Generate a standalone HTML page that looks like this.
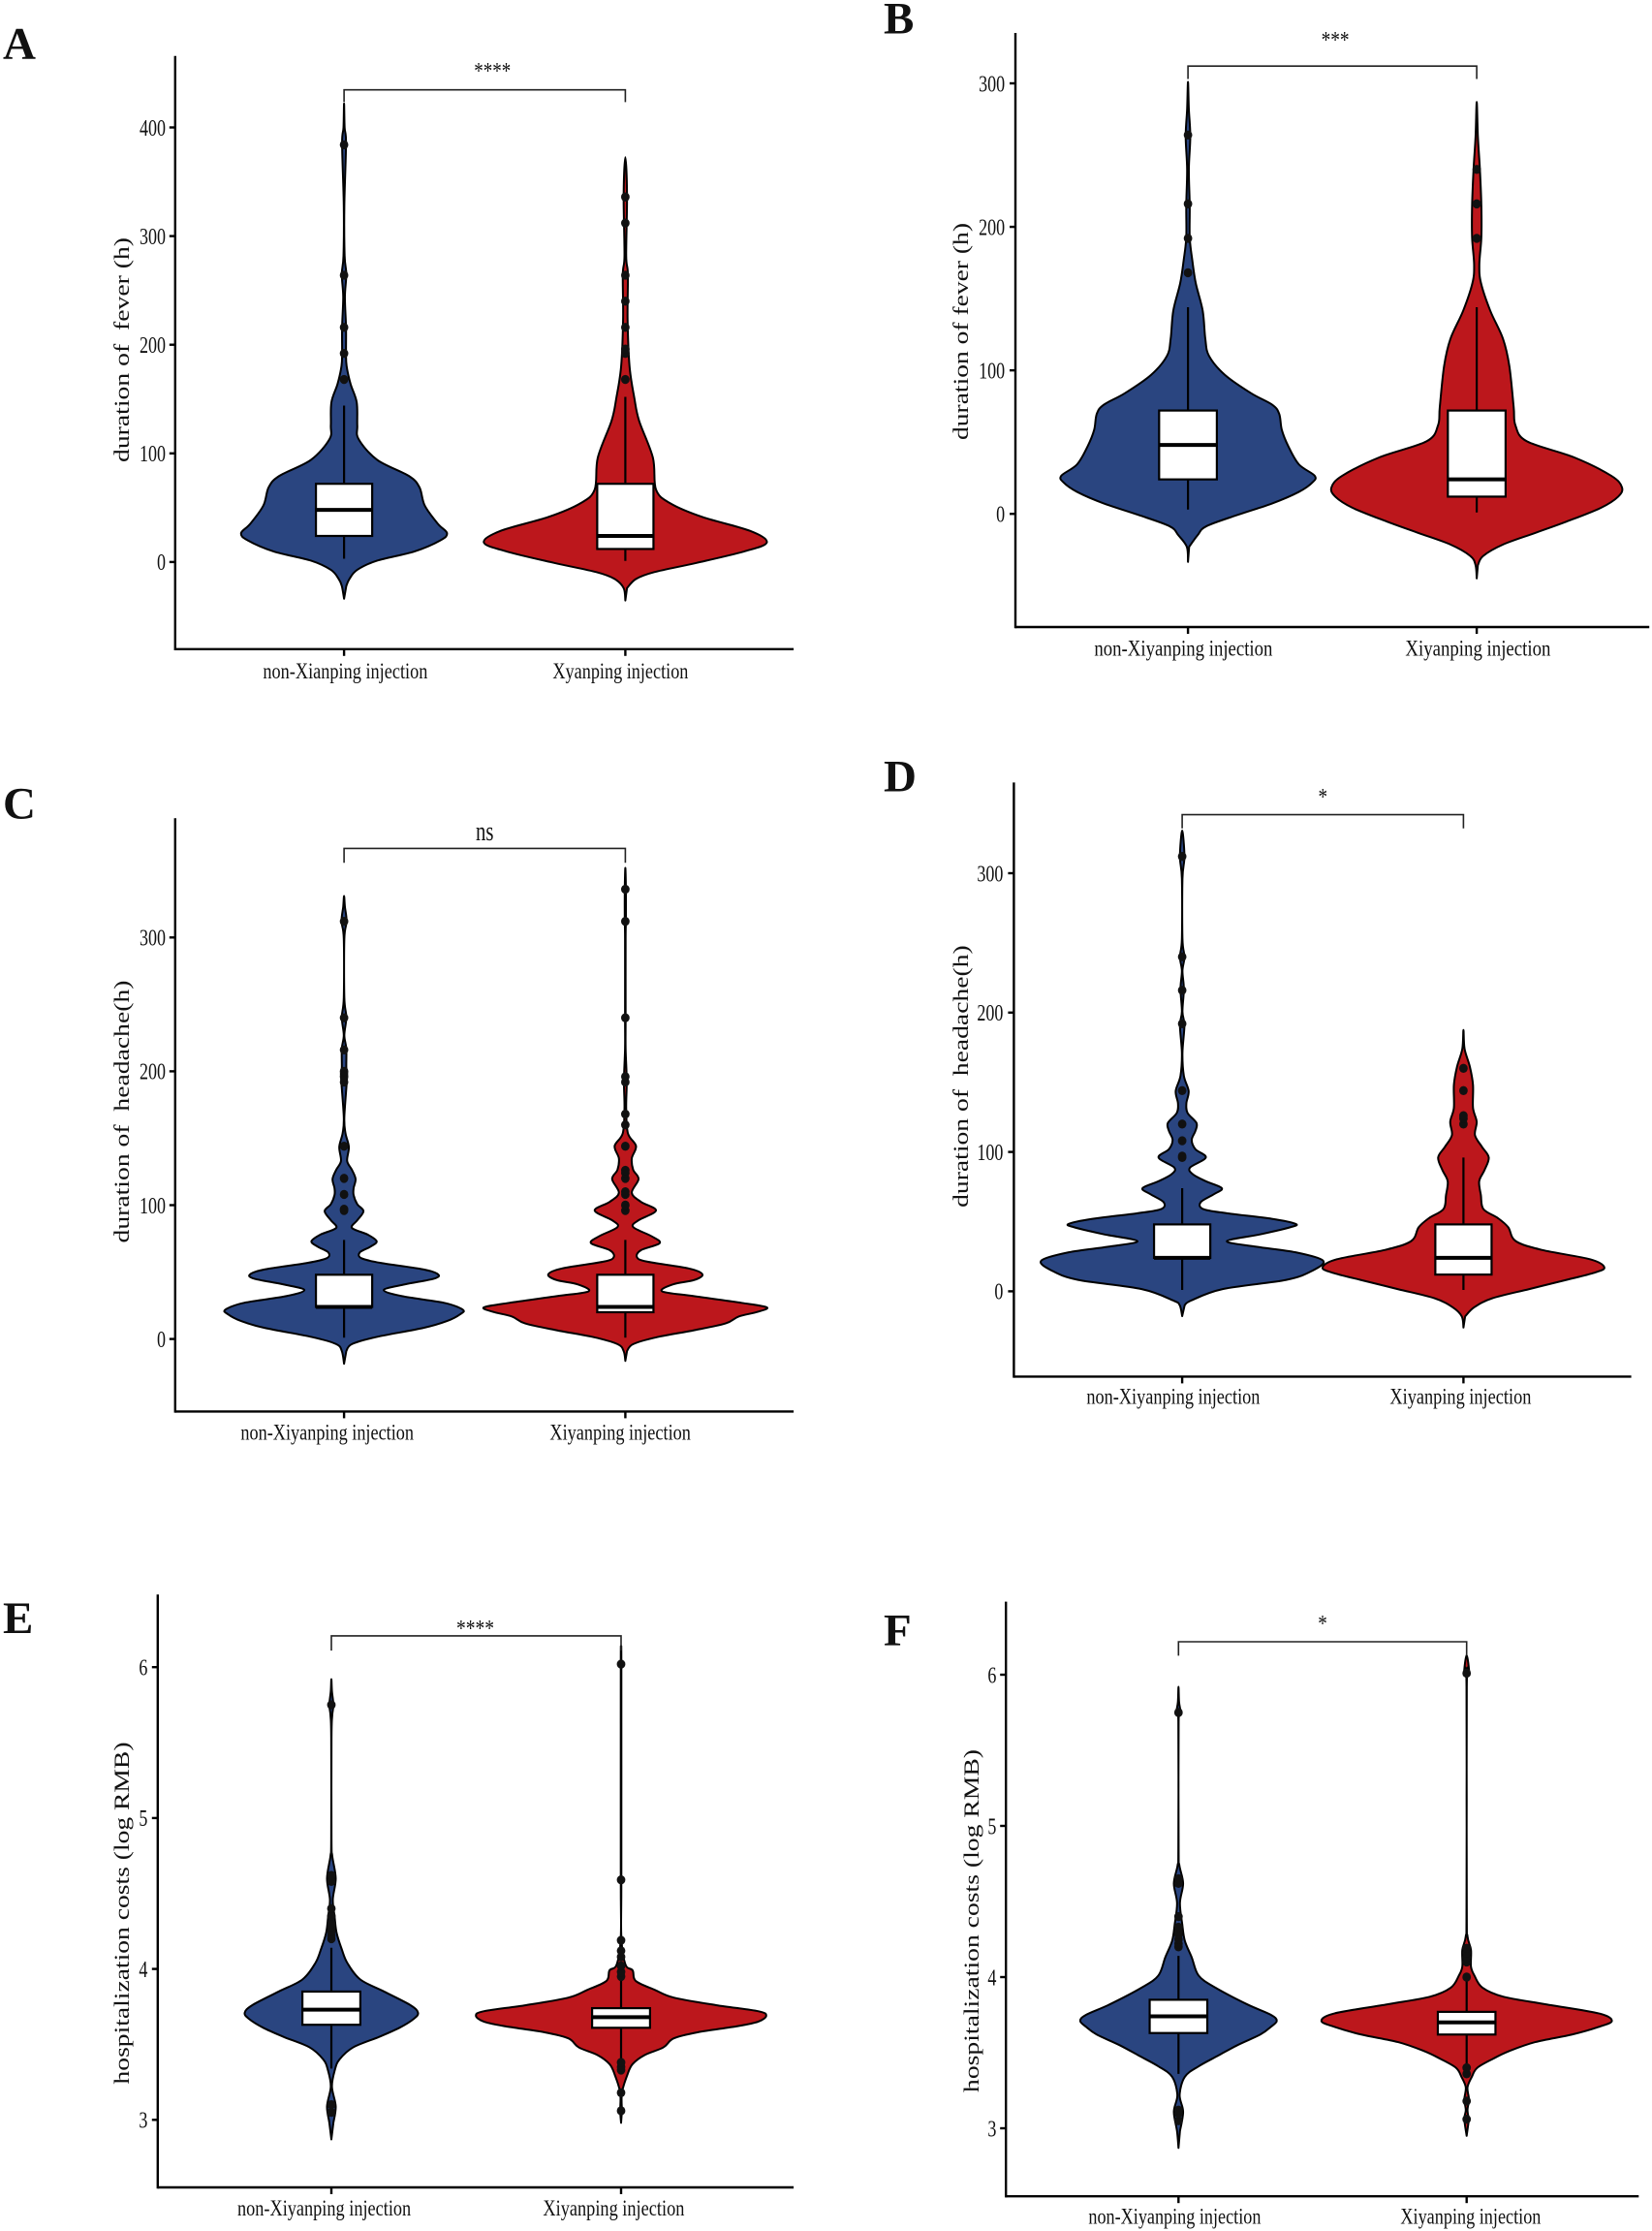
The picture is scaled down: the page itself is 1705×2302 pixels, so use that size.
<!DOCTYPE html>
<html lang="en">
<head>
<meta charset="utf-8">
<title>Violin plots: Xiyanping injection outcomes</title>
<style>
html,body{margin:0;padding:0;background:#fff;}
svg{display:block;}
text{font-family:"Liberation Serif",serif;fill:#111;white-space:pre;}
</style>
</head>
<body>
<svg id="figure" xmlns="http://www.w3.org/2000/svg" width="1705" height="2302" viewBox="0 0 1705 2302"></svg>
<script>
// Panel A: duration of fever
const aTicks = [0, 100, 200, 300, 400];
const aLeftValues = [-33.8,-22,-15.6,-7.2,1.3,9.7,20,26.6,35,51.9,68.8,79.3,94,113,125.7,147,164,180.6,193,216,244,265,282,328,385,400,422];
const aLeftDensity = [0,.8,1.9,4.7,11.8,25,34.3,36.6,33.4,28.7,26.8,23,11.8,5.2,4.7,4.5,2.3,.9,.7,.7,.3,.8,.2,.1,.7,.2,0];
const aLeftBox = [3, 24, 48, 72, 144];
const aLeftOutliers = [168,192,216,264,384];
const aRightValues = [-35.4,-24,-15.6,-9.3,-.8,9.7,18,28.7,41.4,54,66.7,96,130,151,180,223,265,282,337,372.6];
const aRightDensity = [0,.6,3.8,10.3,25.3,42.2,50.3,44.3,27.4,16,10.9,9.8,4.9,3.2,1.5,.8,.9,.3,.6,0];
const aRightBox = [1, 12, 24, 72, 152];
const aRightOutliers = [168,192,196,216,240,264,312,336];

// Panel B: duration of fever
const bTicks = [0, 100, 200, 300];
const bLeftValues = [-33.5,-23,-15,-8.6,-.6,7.3,15.3,21.7,26.5,34.5,47.3,58.5,69.6,76,84,96.8,110,122,141.5,160.7,176.7,192.6,215,240,263,282,301];
const bLeftDensity = [0,.4,3.3,6.4,17.4,29.2,38.4,43,43.9,38.4,34.7,32.5,31.6,29.2,21.9,12.8,7.3,6,5.1,2.7,1.5,.6,.6,.3,.8,.3,0];
const bLeftBox = [3, 24, 48, 72, 144];
const bLeftOutliers = [168,192,216,264];
const bRightValues = [-45,-35.8,-29.4,-21.4,-13.4,-5.4,4.2,12,18.5,26.5,39.3,50.5,61.7,74.4,103,122,141.5,160.7,173.5,192.6,215,240,263,287];
const bRightDensity = [0,.4,2.2,9.1,20.1,31.1,43,49,50.3,46.6,33.8,17.4,13.4,12.8,11.3,9.1,4.7,1.5,.9,1.6,1.6,1.1,.4,0];
const bRightBox = [1, 12, 24, 72, 144];
const bRightOutliers = [192,216,240];

// Panel C: duration of headache
const cTicks = [0, 100, 200, 300];
const cLeftValues = [-18.5,-9,-3.8,1.4,8.2,13.4,18.5,21.9,27,32,36.6,40.8,45,48.3,52,56.8,60.3,64.7,69,73,78,83,88.7,95.5,100.7,107.5,112.7,119.5,126.4,133,143.5,153.8,165.8,196.6,203,217,227,240.4,255,299,312,323,331];
const cLeftDensity = [0,.8,2.8,11.3,28.1,36.6,41.3,42.2,35.6,20.6,14.1,21.6,31.9,33.4,28.1,13.1,6.2,5.6,9.4,11.6,8.4,2.8,4.7,6.9,4.7,3.4,3.4,4.1,2.8,1.1,1.7,.5,.1,1.1,.8,.8,.1,.8,.1,.1,.9,.3,0];
const cLeftBox = [1, 24, 24, 48, 74];
const cLeftOutliers = [96,97,108,120,144,192,196,200,216,240,312];
const cRightValues = [-16.4,-9,-3.8,1.4,6.5,11.6,16.8,20.2,23.6,27,32,35.6,40.8,44,48.3,52.7,57.9,61.3,66.4,71.6,76.7,83.6,88.7,96,102.4,109.2,119.5,126.4,135,144.2,153.8,172.6,193,217,240,299,312,336,352];
const cRightDensity = [0,.6,2.8,11.3,24.4,35.6,40.3,46.9,50.3,41.3,24.4,13.1,16.9,24.4,27.4,22.5,7.5,4.1,5.6,12.2,9.4,2.8,4.7,10.9,5.6,2.3,4.7,2.8,2.3,3.8,.9,.3,.5,.1,.1,.1,.2,.2,0];
const cRightBox = [1, 20, 24, 48, 74];
const cRightOutliers = [96,100,108,110,120,124,126,144,160,168,192,196,240,312,336];

// Panel D: duration of headache
const dTicks = [0, 100, 200, 300];
const dLeftValues = [-17.8,-9.9,-6.6,1.6,8.2,14.8,22,28,32,36,41,46,48.4,52,56,59,64,69.7,74,79,84,88.8,96,102,108.6,115,120.7,128,135,143.7,154.6,171,190.8,200.7,217,230,240,253,296,312,330.6];
const dLeftDensity = [0,.9,3.2,14.4,37,46.3,50.1,40.3,26.3,15.9,28.1,38.5,40.3,31.9,15.9,7.5,6.6,11.3,14.1,8.4,3.8,2.8,8.4,4.7,3.4,4.7,5.1,1.9,1.5,2.3,.6,.1,.8,.1,.6,.1,.8,.1,.1,.8,0];
const dLeftBox = [1, 24, 24, 48, 74];
const dLeftOutliers = [96,97,108,120,144,192,216,240,312];
const dRightValues = [-26,-18,-11.5,-5,1.6,8.2,13,17,23,29.6,36,46,52.6,59,69,79,87,96,103.6,112,121.7,131.6,148,161,174,187.5];
const dRightDensity = [0,.6,3.8,10.3,23.4,36.6,46,50.1,45,28.1,18.6,15.9,12.2,7.1,6.2,5.6,7.5,9,6.6,4.1,4.7,3.4,3.4,2.3,.4,0];
const dRightBox = [1, 12, 24, 48, 96];
const dRightOutliers = [120,124,126,144,160];

// Panel E: hospitalization costs
const eTicks = [3, 4, 5, 6];
const eLeftValues = [2.87,2.98,3.09,3.22,3.33,3.4,3.48,3.55,3.61,3.67,3.71,3.76,3.85,3.93,4.04,4.13,4.24,4.35,4.46,4.6,4.75,4.86,5.53,5.68,5.75,5.84,5.92];
const eLeftDensity = [0,.7,1.5,.2,1.2,2.8,7.5,16.5,23.5,28.5,29.9,27.3,18.2,10,5.5,3.6,1.8,1.1,.5,1.5,.3,.05,.05,.3,.7,.2,0];
const eLeftBox = [3.34, 3.63, 3.73, 3.85, 4.14];
const eLeftOutliers = [3.05,3.1,4.2,4.22,4.25,4.28,4.3,4.35,4.4,4.58,4.62,5.75];
const eRightValues = [2.98,3.06,3.18,3.3,3.37,3.43,3.48,3.54,3.58,3.62,3.65,3.69,3.72,3.76,3.81,3.86,3.92,3.99,4.03,4.21,4.6,6,6.09];
const eRightDensity = [0,.3,.3,2.2,4,8.2,14.6,18.2,26.4,40,47.3,50.1,47.3,32.8,18.2,11.8,5.1,4,1.5,.1,.1,.1,0];
const eRightBox = [3.4, 3.61, 3.68, 3.74, 3.95];
const eRightOutliers = [3.06,3.18,3.33,3.35,3.38,3.95,3.98,4.02,4.08,4.12,4.19,4.59,6.02];

// Panel F: hospitalization costs
const fTicks = [3, 4, 5, 6];
const fLeftValues = [2.87,2.98,3.11,3.22,3.34,3.41,3.48,3.55,3.62,3.67,3.71,3.75,3.82,3.93,4.01,4.13,4.24,4.35,4.49,4.62,4.74,4.85,5.69,5.75,5.82,5.92];
const fLeftDensity = [0,.5,1.6,.4,2.2,7,13.7,20.5,28.4,32,34.1,32.1,23.8,12.8,7,4.6,2.2,1.3,.5,1.6,.3,.05,.05,.7,.2,0];
const fLeftBox = [3.36, 3.63, 3.74, 3.85, 4.14];
const fLeftOutliers = [3.05,3.1,3.12,4.2,4.22,4.25,4.28,4.3,4.33,4.4,4.62,4.65,5.75];
const fRightValues = [2.95,3.06,3.12,3.19,3.27,3.34,3.4,3.46,3.51,3.57,3.62,3.67,3.71,3.76,3.82,3.87,3.93,4.01,4.07,4.18,4.27,4.46,5.92,6,6.13];
const fRightDensity = [0,.8,.3,.8,.3,1.8,3.7,9.2,14.7,23.8,36.6,45.8,50.4,45.8,27.5,12.8,5.5,2.7,1.5,1.5,.3,.05,.05,.9,0];
const fRightBox = [3.4, 3.62, 3.7, 3.77, 3.99];
const fRightOutliers = [3.06,3.18,3.36,3.4,4,4.1,4.13,4.16,4.19,6.01];

const panels = [
  {id:'a', letter:'A', lx:3, ly:60.5,
   axis:{l:181.4,r:819.7,t:58.7,b:670.8}, cat:[355.7,646], y:{v0:0,p0:580.9,v1:400,p1:132.5},
   ticks:aTicks, tickRight:171.6, tickW:9,
   title:'duration of  fever (h)', titleX:126, titleY:362, titleLen:232,
   xLabels:['non-Xianping injection','Xyanping injection'], xSpans:[[272,442],[571,711]], xLabelY:701,
   bracket:[434.6,423.3], sig:'****', sigDx:8, sigW:38, sigBase:82,
   left:{v:aLeftValues,d:aLeftDensity,box:aLeftBox,out:aLeftOutliers},
   right:{v:aRightValues,d:aRightDensity,box:aRightBox,out:aRightOutliers}},
  {id:'b', letter:'B', lx:912, ly:34.5,
   axis:{l:1048.6,r:1702.8,t:35,b:648}, cat:[1226.7,1524.7], y:{v0:0,p0:531.2,v1:300,p1:87},
   ticks:bTicks, tickRight:1037.7, tickW:9,
   title:'duration of fever (h)', titleX:992, titleY:343, titleLen:224,
   xLabels:['non-Xiyanping injection','Xiyanping injection'], xSpans:[[1130,1314],[1451,1601]], xLabelY:677.5,
   bracket:[312,303], sig:'***', sigDx:3, sigW:29, sigBase:50,
   left:{v:bLeftValues,d:bLeftDensity,box:bLeftBox,out:bLeftOutliers},
   right:{v:bRightValues,d:bRightDensity,box:bRightBox,out:bRightOutliers}},
  {id:'c', letter:'C', lx:3, ly:844.5,
   axis:{l:181.4,r:819.7,t:845.3,b:1457.4}, cat:[355.7,646], y:{v0:0,p0:1382.6,v1:300,p1:968.3},
   ticks:cTicks, tickRight:171.6, tickW:9,
   title:'duration of  headache(h)', titleX:126, titleY:1148, titleLen:271,
   xLabels:['non-Xiyanping injection','Xiyanping injection'], xSpans:[[249,427.6],[568,713.5]], xLabelY:1486.5,
   bracket:[366.5,355.8], sig:'ns', sigDx:0, sigW:18.5, sigBase:868,
   left:{v:cLeftValues,d:cLeftDensity,box:cLeftBox,out:cLeftOutliers},
   right:{v:cRightValues,d:cRightDensity,box:cRightBox,out:cRightOutliers}},
  {id:'d', letter:'D', lx:912, ly:816.5,
   axis:{l:1047,r:1684.2,t:808.4,b:1421.4}, cat:[1220.7,1511], y:{v0:0,p0:1333.4,v1:300,p1:902},
   ticks:dTicks, tickRight:1036, tickW:9,
   title:'duration of  headache(h)', titleX:992, titleY:1111.6, titleLen:270.6,
   xLabels:['non-Xiyanping injection','Xiyanping injection'], xSpans:[[1122,1301],[1435,1581]], xLabelY:1449.5,
   bracket:[342,332.2], sig:'*', sigDx:0, sigW:9.5, sigBase:831,
   left:{v:dLeftValues,d:dLeftDensity,box:dLeftBox,out:dLeftOutliers},
   right:{v:dRightValues,d:dRightDensity,box:dRightBox,out:dRightOutliers}},
  {id:'e', letter:'E', lx:3, ly:1685,
   axis:{l:163.4,r:819.7,t:1646.2,b:2258}, cat:[342.6,641.6], y:{v0:3,p0:2188.3,v1:6,p1:1721.2},
   ticks:eTicks, tickRight:153, tickW:9,
   title:'hospitalization costs (log RMB)', titleX:126, titleY:1975, titleLen:353,
   xLabels:['non-Xiyanping injection','Xiyanping injection'], xSpans:[[245.6,424.8],[561,707]], xLabelY:2287,
   bracket:[6.207,6.11], sig:'****', sigDx:-1, sigW:39, sigBase:1689,
   left:{v:eLeftValues,d:eLeftDensity,box:eLeftBox,out:eLeftOutliers},
   right:{v:eRightValues,d:eRightDensity,box:eRightBox,out:eRightOutliers}},
  {id:'f', letter:'F', lx:912, ly:1697.5,
   axis:{l:1038.8,r:1691.9,t:1653.6,b:2267.2}, cat:[1216.9,1514.3], y:{v0:3,p0:2197,v1:6,p1:1729},
   ticks:fTicks, tickRight:1029, tickW:9,
   title:'hospitalization costs (log RMB)', titleX:1003, titleY:1983, titleLen:354,
   xLabels:['non-Xiyanping injection','Xiyanping injection'], xSpans:[[1124,1302],[1446,1591]], xLabelY:2295.5,
   bracket:[6.218,6.126], sig:'*', sigDx:0, sigW:9.5, sigBase:1684,
   left:{v:fLeftValues,d:fLeftDensity,box:fLeftBox,out:fLeftOutliers},
   right:{v:fRightValues,d:fRightDensity,box:fRightBox,out:fRightOutliers}}
];

const NS = 'http://www.w3.org/2000/svg';
const BLUE = '#2A4580';
const RED = '#BC171C';
const INK = '#000';
const root = document.getElementById('figure');

function makeEl(tag, parent, attrs) {
  const el = document.createElementNS(NS, tag);
  Object.keys(attrs).forEach(function (k) { el.setAttribute(k, attrs[k]); });
  parent.appendChild(el);
  return el;
}

function smoothPath(pts) {
  let d = 'M' + pts[0][0].toFixed(2) + ' ' + pts[0][1].toFixed(2);
  for (let i = 0; i < pts.length - 1; i++) {
    const p0 = pts[Math.max(i - 1, 0)], p1 = pts[i], p2 = pts[i + 1], p3 = pts[Math.min(i + 2, pts.length - 1)];
    const c1x = p1[0] + (p2[0] - p0[0]) / 6, c1y = p1[1] + (p2[1] - p0[1]) / 6;
    const c2x = p2[0] - (p3[0] - p1[0]) / 6, c2y = p2[1] - (p3[1] - p1[1]) / 6;
    d += 'C' + c1x.toFixed(2) + ' ' + c1y.toFixed(2) + ' ' + c2x.toFixed(2) + ' ' + c2y.toFixed(2) + ' ' + p2[0].toFixed(2) + ' ' + p2[1].toFixed(2);
  }
  return d + 'Z';
}

function drawViolin(parent, s, cx, spacing, yScale, color, side) {
  const group = makeEl('g', parent, {});
  
  

  const leftSide = s.v.map(function (v, i) { return [cx - s.d[i] / 100 * spacing, yScale(v)]; });
  const rightSide = s.v.map(function (v, i) { return [cx + s.d[i] / 100 * spacing, yScale(v)]; }).reverse().slice(1, -1);
  const shape = makeEl('path', group, {d: smoothPath(leftSide.concat(rightSide)), fill: color, stroke: INK, 'stroke-width': 2, 'stroke-linejoin': 'round'});
  
  

  const whiskerLow = s.box[0], q1 = s.box[1], median = s.box[2], q3 = s.box[3], whiskerHigh = s.box[4];
  const whisker = makeEl('line', group, {x1: cx, x2: cx, y1: yScale(whiskerLow), y2: yScale(whiskerHigh), stroke: INK, 'stroke-width': 2.2});
  
  

  const halfBox = spacing * 0.1;
  const box = makeEl('rect', group, {x: cx - halfBox, y: yScale(q3), width: halfBox * 2, height: yScale(q1) - yScale(q3), fill: '#fff', stroke: INK, 'stroke-width': 2.2});
  
  

  const med = makeEl('line', group, {x1: cx - halfBox, x2: cx + halfBox, y1: yScale(median), y2: yScale(median), stroke: INK, 'stroke-width': 4});
  
  

  s.out.forEach(function (v) {
    const dot = makeEl('ellipse', group, {cx: cx, cy: yScale(v), rx: 4.4, ry: 4.7, fill: '#111'});
    
    
  });
}

panels.forEach(function (p) {
  const g = makeEl('g', root, {transform: 'translate(-0.6 -1)'});
  
  

  const yScale = function (v) { return p.y.p0 + (v - p.y.v0) * (p.y.p1 - p.y.p0) / (p.y.v1 - p.y.v0); };
  const spacing = p.cat[1] - p.cat[0];

  const letter = makeEl('text', g, {x: p.lx + 0.6, y: p.ly + 1, 'font-size': 47, 'font-weight': 700});
  
  
  letter.textContent = p.letter;

  drawViolin(g, p.left, p.cat[0], spacing, yScale, BLUE, 'control');
  drawViolin(g, p.right, p.cat[1], spacing, yScale, RED, 'xiyanping');

  const yAxis = makeEl('line', g, {x1: p.axis.l, x2: p.axis.l, y1: p.axis.t, y2: p.axis.b + 1.2, stroke: INK, 'stroke-width': 2.4});
  
  

  const xAxis = makeEl('line', g, {x1: p.axis.l, x2: p.axis.r, y1: p.axis.b, y2: p.axis.b, stroke: INK, 'stroke-width': 2.4});
  
  

  p.ticks.forEach(function (t) {
    const py = yScale(t);
    const tick = makeEl('line', g, {x1: p.axis.l - 6, x2: p.axis.l, y1: py, y2: py, stroke: INK, 'stroke-width': 2.4});
    
    
    const str = String(t);
    const label = makeEl('text', g, {x: p.tickRight - p.tickW * str.length, y: py + 8.3, 'font-size': 24, textLength: p.tickW * str.length, lengthAdjust: 'spacingAndGlyphs'});
    
    
    label.textContent = str;
  });

  p.cat.forEach(function (cx, i) {
    const tick = makeEl('line', g, {x1: cx, x2: cx, y1: p.axis.b, y2: p.axis.b + 7, stroke: INK, 'stroke-width': 2.4});
    
    
    const span = p.xSpans[i];
    const label = makeEl('text', g, {x: span[0], y: p.xLabelY, 'font-size': 23.5, textLength: span[1] - span[0], lengthAdjust: 'spacingAndGlyphs'});
    
    
    label.textContent = p.xLabels[i];
  });

  const title = makeEl('text', g, {x: 0, y: 0, 'font-size': 22, 'text-anchor': 'middle', textLength: p.titleLen, lengthAdjust: 'spacingAndGlyphs', transform: 'translate(' + (p.titleX + 7.5) + ' ' + p.titleY + ') rotate(-90)'});
  
  
  title.textContent = p.title;

  const by = yScale(p.bracket[0]), ty = yScale(p.bracket[1]);
  const bracket = makeEl('path', g, {d: 'M' + p.cat[0] + ' ' + ty + 'V' + by + 'H' + p.cat[1] + 'V' + ty, fill: 'none', stroke: '#222', 'stroke-width': 1.6});
  
  

  const mid = (p.cat[0] + p.cat[1]) / 2 + p.sigDx;
  const sig = makeEl('text', g, {x: mid - p.sigW / 2, y: p.sigBase, 'font-size': p.sig === 'ns' ? 29 : 24, textLength: p.sigW, lengthAdjust: 'spacingAndGlyphs'});
  
  
  sig.textContent = p.sig;
});
</script>
</body>
</html>
